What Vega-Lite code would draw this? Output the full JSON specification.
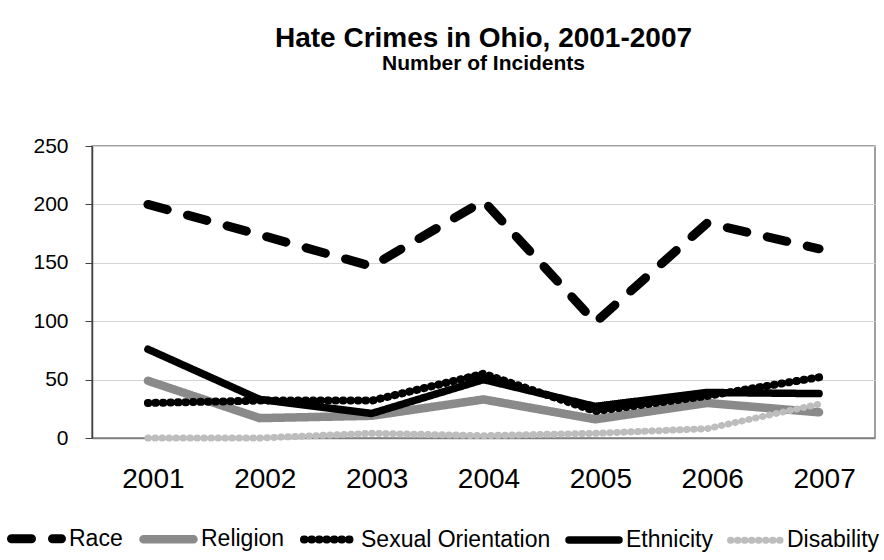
{
  "$schema": "https://vega.github.io/schema/vega-lite/v6.json",
  "width": 783,
  "height": 292,
  "autosize": {"type": "none"},
  "padding": {"left": 92, "top": 146, "right": 9, "bottom": 122},
  "background": "white",
  "title": {
    "text": "Hate Crimes in Ohio, 2001-2007",
    "subtitle": "Number of Incidents",
    "font": "Liberation Sans",
    "subtitleFont": "Liberation Sans",
    "fontSize": 28,
    "subtitleFontSize": 21,
    "fontWeight": "bold",
    "subtitleFontWeight": "bold",
    "color": "black",
    "subtitleColor": "black",
    "anchor": "middle",
    "offset": 61,
    "subtitlePadding": 0
  },
  "data": {
    "values": [
      {"year": "2001", "series": "Race", "count": 200},
      {"year": "2002", "series": "Race", "count": 174},
      {"year": "2003", "series": "Race", "count": 147},
      {"year": "2004", "series": "Race", "count": 203},
      {"year": "2005", "series": "Race", "count": 99},
      {"year": "2006", "series": "Race", "count": 184},
      {"year": "2007", "series": "Race", "count": 162},
      {"year": "2001", "series": "Religion", "count": 49},
      {"year": "2002", "series": "Religion", "count": 17},
      {"year": "2003", "series": "Religion", "count": 19},
      {"year": "2004", "series": "Religion", "count": 33},
      {"year": "2005", "series": "Religion", "count": 16},
      {"year": "2006", "series": "Religion", "count": 30},
      {"year": "2007", "series": "Religion", "count": 22},
      {"year": "2001", "series": "Sexual Orientation", "count": 30},
      {"year": "2002", "series": "Sexual Orientation", "count": 32},
      {"year": "2003", "series": "Sexual Orientation", "count": 32},
      {"year": "2004", "series": "Sexual Orientation", "count": 55},
      {"year": "2005", "series": "Sexual Orientation", "count": 23},
      {"year": "2006", "series": "Sexual Orientation", "count": 36},
      {"year": "2007", "series": "Sexual Orientation", "count": 52},
      {"year": "2001", "series": "Ethnicity", "count": 76},
      {"year": "2002", "series": "Ethnicity", "count": 33},
      {"year": "2003", "series": "Ethnicity", "count": 21},
      {"year": "2004", "series": "Ethnicity", "count": 50},
      {"year": "2005", "series": "Ethnicity", "count": 27},
      {"year": "2006", "series": "Ethnicity", "count": 39},
      {"year": "2007", "series": "Ethnicity", "count": 38},
      {"year": "2001", "series": "Disability", "count": 0},
      {"year": "2002", "series": "Disability", "count": 0},
      {"year": "2003", "series": "Disability", "count": 4},
      {"year": "2004", "series": "Disability", "count": 2},
      {"year": "2005", "series": "Disability", "count": 4},
      {"year": "2006", "series": "Disability", "count": 8},
      {"year": "2007", "series": "Disability", "count": 29}
    ]
  },
  "mark": {"type": "line", "strokeCap": "round", "strokeJoin": "round"},
  "encoding": {
    "x": {
      "field": "year",
      "type": "ordinal",
      "scale": {"padding": 0.5},
      "axis": {
        "title": null,
        "labelAngle": 0,
        "labelFont": "Liberation Sans",
        "labelFontSize": 28,
        "labelColor": "black",
        "labelOffset": 5,
        "ticks": false,
        "domainColor": "#808080",
        "domainWidth": 1.5,
        "labelPadding": 27,
        "grid": false
      }
    },
    "y": {
      "field": "count",
      "type": "quantitative",
      "scale": {"domain": [0, 250], "nice": false},
      "axis": {
        "title": null,
        "values": [0, 50, 100, 150, 200, 250],
        "labelFont": "Liberation Sans",
        "labelFontSize": 21,
        "labelColor": "black",
        "tickSize": 7,
        "tickColor": "#404040",
        "domainColor": "#404040",
        "domainWidth": 1.5,
        "labelPadding": 17,
        "grid": true,
        "gridColor": "#d4d4d4",
        "gridWidth": 1
      }
    },
    "color": {
      "field": "series",
      "type": "nominal",
      "scale": {
        "domain": ["Race", "Religion", "Sexual Orientation", "Ethnicity", "Disability"],
        "range": ["#000000", "#8a8a8a", "#000000", "#000000", "#bdbdbd"]
      },
      "legend": {
        "title": null,
        "orient": "none",
        "legendX": -85,
        "legendY": 363,
        "direction": "horizontal",
        "symbolType": "stroke",
        "symbolSize": 2500,
        "labelFont": "Liberation Sans",
        "labelFontSize": 23,
        "labelColor": "black",
        "labelOffset": 3,
        "columnPadding": 3,
        "labelLimit": 400,
        "encode": {
          "symbols": {"update": {"strokeCap": {"value": "round"}}}
        }
      }
    },
    "strokeDash": {
      "field": "series",
      "type": "nominal",
      "scale": {
        "domain": ["Race", "Religion", "Sexual Orientation", "Ethnicity", "Disability"],
        "range": [[20, 21], [1, 0], [0.5, 7], [1, 0], [0.5, 6.5]]
      }
    },
    "strokeWidth": {
      "field": "series",
      "type": "nominal",
      "scale": {
        "domain": ["Race", "Religion", "Sexual Orientation", "Ethnicity", "Disability"],
        "range": [9, 7, 10, 9, 10]
      }
    }
  },
  "config": {
    "view": {"stroke": "#808080", "strokeWidth": 1.5}
  }
}
